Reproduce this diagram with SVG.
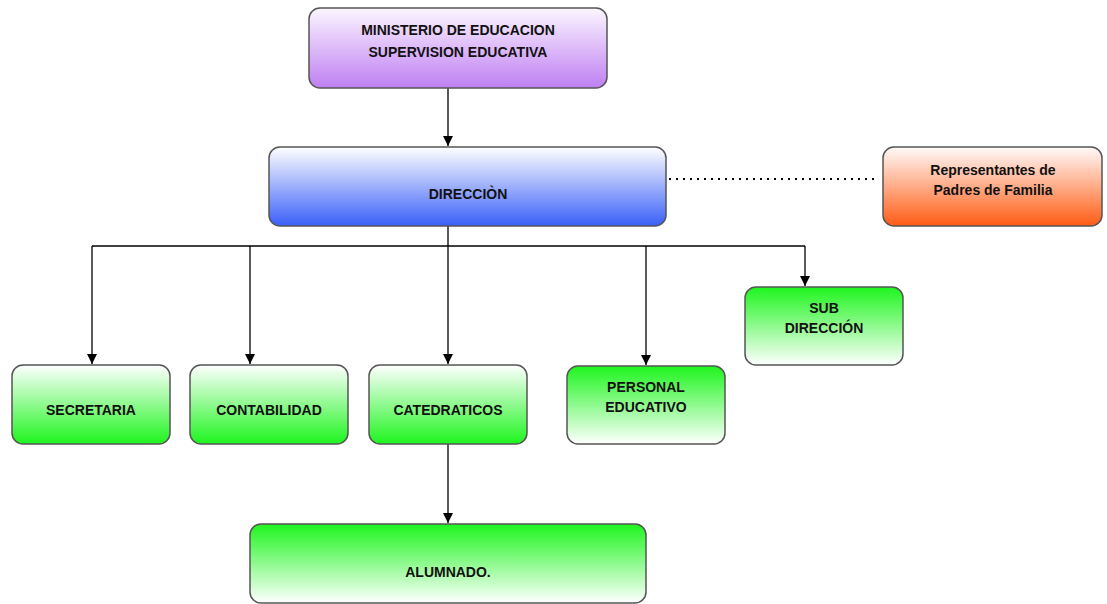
<svg xmlns="http://www.w3.org/2000/svg" width="1107" height="604" viewBox="0 0 1107 604">
<style>
.box{stroke:#555;stroke-width:1.5}
.t{font-family:"Liberation Sans Narrow","Liberation Sans",Arial,sans-serif;font-weight:bold;font-size:14px;fill:#111;text-anchor:middle}
.c{stroke:#000;stroke-width:1.3;fill:none}
</style>
<defs>
<linearGradient id="gPurple" x1="0" y1="0" x2="0" y2="1"><stop offset="0" stop-color="#fbf6ff"/><stop offset="1" stop-color="#bf7ff2"/></linearGradient>
<linearGradient id="gBlue" x1="0" y1="0" x2="0" y2="1"><stop offset="0" stop-color="#ffffff"/><stop offset="1" stop-color="#3a5ff8"/></linearGradient>
<linearGradient id="gOrange" x1="0" y1="0" x2="0" y2="1"><stop offset="0" stop-color="#fffafa"/><stop offset="1" stop-color="#ff5c14"/></linearGradient>
<linearGradient id="gGreenUp" x1="0" y1="0" x2="0" y2="1"><stop offset="0" stop-color="#ffffff"/><stop offset="1" stop-color="#1ef51e"/></linearGradient>
<linearGradient id="gGreenDown" x1="0" y1="0" x2="0" y2="1"><stop offset="0" stop-color="#1ef51e"/><stop offset="1" stop-color="#ffffff"/></linearGradient>
<marker id="arr" markerWidth="10" markerHeight="10" refX="10" refY="5" orient="auto" markerUnits="userSpaceOnUse"><path d="M0,0 L10,5 L0,10 Z" fill="#000"/></marker>
</defs>
<g id="connectors">
<path class="c" d="M448,88 V146" marker-end="url(#arr)"/>
<path class="c" d="M448,226 V364" marker-end="url(#arr)"/>
<path class="c" d="M92,246 H805"/>
<path class="c" d="M92,246 V364" marker-end="url(#arr)"/>
<path class="c" d="M250,246 V364" marker-end="url(#arr)"/>
<path class="c" d="M646,246 V365" marker-end="url(#arr)"/>
<path class="c" d="M805,246 V286" marker-end="url(#arr)"/>
<path class="c" d="M448,444 V523" marker-end="url(#arr)"/>
<path d="M669,179 H876" stroke="#000" stroke-width="2" stroke-dasharray="2,5" fill="none"/>
</g>
<g id="ministerio">
<rect class="box" x="309" y="8" width="298" height="80" rx="11" fill="url(#gPurple)"/>
<text class="t" x="458" y="35">MINISTERIO DE EDUCACION</text>
<text class="t" x="458" y="57">SUPERVISION EDUCATIVA</text>
</g>
<g id="direccion">
<rect class="box" x="269" y="147" width="397" height="79" rx="11" fill="url(#gBlue)"/>
<text class="t" x="468" y="199">DIRECCIÒN</text>
</g>
<g id="representantes">
<rect class="box" x="883" y="147" width="219" height="79" rx="11" fill="url(#gOrange)"/>
<text class="t" x="993" y="175">Representantes de</text>
<text class="t" x="993" y="195">Padres de Familia</text>
</g>
<g id="secretaria">
<rect class="box" x="12" y="365" width="158" height="79" rx="11" fill="url(#gGreenUp)"/>
<text class="t" x="91" y="415">SECRETARIA</text>
</g>
<g id="contabilidad">
<rect class="box" x="190" y="365" width="158" height="79" rx="11" fill="url(#gGreenUp)"/>
<text class="t" x="269" y="415">CONTABILIDAD</text>
</g>
<g id="catedraticos">
<rect class="box" x="369" y="365" width="158" height="79" rx="11" fill="url(#gGreenUp)"/>
<text class="t" x="448" y="415">CATEDRATICOS</text>
</g>
<g id="personal">
<rect class="box" x="567" y="366" width="158" height="78" rx="11" fill="url(#gGreenDown)"/>
<text class="t" x="646" y="392">PERSONAL</text>
<text class="t" x="646" y="412">EDUCATIVO</text>
</g>
<g id="subdireccion">
<rect class="box" x="745" y="287" width="158" height="78" rx="11" fill="url(#gGreenDown)"/>
<text class="t" x="824" y="313">SUB</text>
<text class="t" x="824" y="333">DIRECCIÓN</text>
</g>
<g id="alumnado">
<rect class="box" x="250" y="524" width="396" height="79" rx="11" fill="url(#gGreenDown)"/>
<text class="t" x="448" y="577">ALUMNADO.</text>
</g>
</svg>
